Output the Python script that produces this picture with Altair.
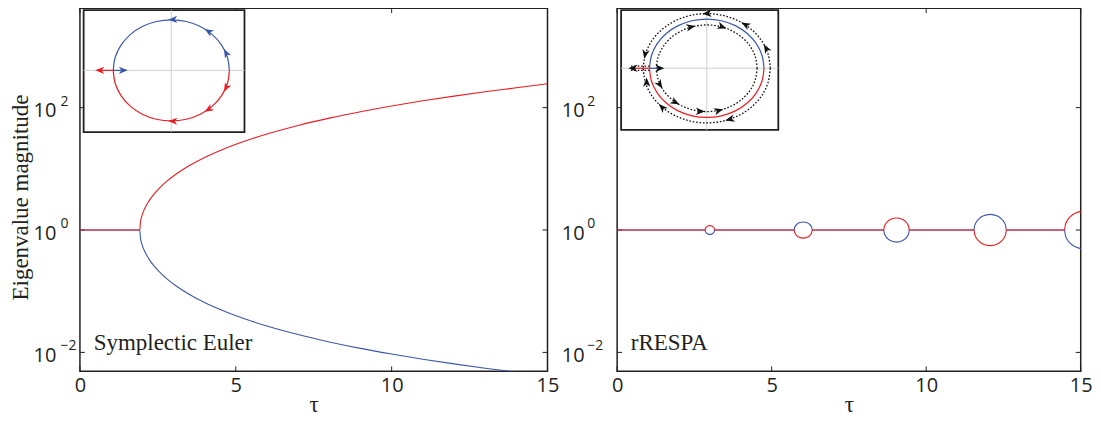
import altair as alt
import pandas as pd

RED = "#ed1c24"
BLUE = "#3b57a7"
INK = "#231f20"
CROSS = "#d0d0d0"
COLORS = {"red": RED, "blue": BLUE, "black": "#111111"}

WL = 468
WR = 464
H = 363.5

# ---------------- axes ----------------
tau_domain = [0, 15]
mag_domain = [0.0049, 4217]
tau_ticks = [0, 5, 10, 15]
mag_ticks = [0.01, 1, 100]
mag_exponents = ["\u22122", "0", "2"]

# ---------------- left panel: symplectic Euler ----------------
se_tau = [0.0, 1.92, 1.94, 1.97, 2.02, 2.1, 2.2, 2.35, 2.55, 2.8, 3.1, 3.5, 4.0, 4.6,
          5.3, 6.0, 7.0, 8.0, 9.0, 10.0, 11.0, 12.0, 13.0, 14.0, 15.0]
se_red = [1.0, 1.0, 1.334, 1.577, 1.902, 2.362, 2.908, 3.724, 4.850, 6.350, 8.308, 11.20,
          15.30, 20.91, 28.45, 37.04, 51.15, 67.43, 85.88, 106.5, 129.3, 154.3, 181.4,
          210.7, 246.0]
se_blue = [1.0, 1.0, 0.7496, 0.6341, 0.5258, 0.4234, 0.3439, 0.2685, 0.2062, 0.1575,
           0.1204, 0.08925, 0.06537, 0.04782, 0.03515, 0.02700, 0.01955, 0.01483,
           0.01164, 0.00939, 0.007735, 0.006483, 0.005513, 0.004746, 0.00407]

# ---------------- right panel: rRESPA ----------------
rr_flat_start = [0.0, 3.15, 6.31, 9.45, 12.59]
rr_flat_end = [2.85, 5.73, 8.63, 11.55, 14.48]
rr_loop_tau = [
    [2.85, 2.855, 2.87, 2.895, 2.933, 3.0, 3.068, 3.105, 3.13, 3.145, 3.15],
    [5.73, 5.739, 5.768, 5.817, 5.889, 6.02, 6.151, 6.223, 6.272, 6.301, 6.31],
    [8.63, 8.642, 8.683, 8.753, 8.856, 9.04, 9.225, 9.327, 9.397, 9.438, 9.45],
    [11.55, 11.566, 11.618, 11.706, 11.836, 12.07, 12.304, 12.434, 12.522, 12.574, 12.59],
    [14.48, 14.499, 14.561, 14.666, 14.821, 15.1, 15.379, 15.534, 15.639, 15.701, 15.72],
]
rr_loop_upper = [
    [1.0, 1.041, 1.085, 1.126, 1.160, 1.180, 1.160, 1.126, 1.085, 1.041, 1.0],
    [1.0, 1.077, 1.162, 1.243, 1.312, 1.355, 1.312, 1.243, 1.162, 1.077, 1.0],
    [1.0, 1.117, 1.251, 1.383, 1.499, 1.574, 1.499, 1.383, 1.251, 1.117, 1.0],
    [1.0, 1.154, 1.336, 1.521, 1.689, 1.799, 1.689, 1.521, 1.336, 1.154, 1.0],
    [1.0, 1.188, 1.419, 1.659, 1.884, 2.032, 1.884, 1.659, 1.419, 1.188, 1.0],
]
rr_loop_lower = [
    [1.0, 0.961, 0.922, 0.888, 0.862, 0.847, 0.862, 0.888, 0.922, 0.961, 1.0],
    [1.0, 0.929, 0.861, 0.805, 0.762, 0.738, 0.762, 0.805, 0.861, 0.929, 1.0],
    [1.0, 0.896, 0.800, 0.723, 0.667, 0.635, 0.667, 0.723, 0.800, 0.896, 1.0],
    [1.0, 0.867, 0.749, 0.658, 0.592, 0.556, 0.592, 0.658, 0.749, 0.867, 1.0],
    [1.0, 0.842, 0.705, 0.603, 0.531, 0.492, 0.531, 0.603, 0.705, 0.842, 1.0],
]
rr_loop_top = ["red", "blue", "red", "blue", "red"]

# ---------------- insets (complex plane) ----------------
circle_cos = [1.0, 0.966, 0.866, 0.707, 0.5, 0.259, 0.0, -0.259, -0.5, -0.707, -0.866, -0.966, -1.0]
circle_sin = [0.0, 0.259, 0.5, 0.707, 0.866, 0.966, 1.0, 0.966, 0.866, 0.707, 0.5, 0.259, 0.0]

se_inset_x = [-1.51, 1.26]
se_inset_y = [-1.22, 1.19]
se_tail_red = [-1.0, -1.28]
se_tail_blue = [-1.0, -0.77]
se_arrow_x = [0.906, 0.574, -0.052, -0.75, 0.906, 0.574, -0.052, -1.31]
se_arrow_y = [0.423, 0.819, 0.999, 0.0, -0.423, -0.819, -0.999, 0.0]
se_arrow_dir = [241.7, 211.3, 177.4, 0.0, 118.3, 148.7, 182.6, 180.0]
se_arrow_col = ["blue", "blue", "blue", "blue", "red", "red", "red", "red"]

rr_inset_x = [-1.496, 1.25]
rr_inset_y = [-1.25, 1.18]
rr_tail_red = [-1.0, -1.34]
rr_tail_blue = [-1.0, -0.78]
rr_ring_radius = [1.11, 0.88]
rr_trail_x = [-1.0, -1.33]
rr_trail_y = [0.045, -0.045]
rr_arrow_x = [-0.077, 0.605, 0.998, -1.093, 0.325, -0.838,
              -0.198, 0.344, -0.777, -0.479, -0.031, 0.287,
              -1.37, -0.74, -1.05]
rr_arrow_y = [1.107, 0.931, 0.487, 0.193, -1.061, -0.728,
              0.857, 0.810, -0.413, -0.738, -0.879, -0.832,
              0.0, 0.0, -0.19]
rr_arrow_dir = [176.6, 209.1, 240.4, 101.6, 165.3, 224.6,
                348.8, 20.0, 58.2, 29.1, 1.7, 343.5,
                180.0, 0.0, 270.0]

ARROW = "M0,0 L-2,-0.8 L-1.45,0 L-2,0.8 Z"


def mx(axis=None):
    return alt.X("tau:Q", scale=alt.Scale(domain=tau_domain, nice=False, zero=False), axis=axis)


def my(axis=None):
    return alt.Y("mag:Q", scale=alt.Scale(type="log", domain=mag_domain, nice=False), axis=axis)


def x_axis():
    return alt.Axis(values=tau_ticks, title="\u03c4", format="d", labelFont="Open Sans",
                    labelFontSize=20, labelColor=INK, labelPadding=4, labelFlush=False,
                    labelOverlap=False, ticks=False, domain=False, grid=False,
                    titleFont="Liberation Serif", titleFontSize=23, titleFontWeight="normal",
                    titleColor=INK, titleBaseline="middle", titleY=33)


def y_axis(with_title, pad):
    kw = dict(values=mag_ticks, labelExpr="'10'", labelFont="Open Sans", labelFontSize=20,
              labelColor=INK, labelPadding=pad, labelOffset=3, labelOverlap=False,
              ticks=False, domain=False, grid=False)
    if with_title:
        kw.update(title="Eigenvalue magnitude", titleFont="Liberation Serif", titleFontSize=23,
                  titleFontWeight="normal", titleColor=INK, titleAngle=270,
                  titleAlign="center", titleBaseline="middle", titleX=-59.5, titleY=189)
    else:
        kw.update(title=None)
    return alt.Axis(**kw)


def tick_layers(w):
    xt = pd.DataFrame({"tau": tau_ticks})
    yt = pd.DataFrame({"mag": mag_ticks})
    bx = alt.Chart(xt).mark_rule(color=INK, strokeWidth=1)
    by = alt.Chart(yt).mark_rule(color=INK, strokeWidth=1)
    return [
        bx.encode(x=mx(), y=alt.value(H), y2=alt.value(H - 5)),
        bx.encode(x=mx(), y=alt.value(0), y2=alt.value(5)),
        by.encode(y=my(), x=alt.value(0), x2=alt.value(5)),
        by.encode(y=my(), x=alt.value(w), x2=alt.value(w - 5)),
    ]


def exponent_layer(xoff):
    df = pd.DataFrame({"mag": mag_ticks, "e": mag_exponents})
    return alt.Chart(df).mark_text(align="left", baseline="middle", font="Open Sans",
                                   fontSize=14, color=INK, dy=-6).encode(
        y=my(), x=alt.value(xoff), text="e:N")


def label_layer(text):
    df = pd.DataFrame({"tau": [0.44], "mag": [0.0108], "t": [text]})
    return alt.Chart(df).mark_text(align="left", baseline="alphabetic", font="Liberation Serif",
                                   fontSize=23, color=INK).encode(x=mx(), y=my(), text="t:N")


def inset_layers(xdom, ydom, xr, yr, curves, arrows, arrow_size):
    xs = alt.Scale(domain=xdom, range=xr, nice=False, zero=False)
    ys = alt.Scale(domain=ydom, range=yr, nice=False, zero=False)
    box = alt.Chart(pd.DataFrame({"x": [xdom[0]], "x2": [xdom[1]], "y": [ydom[0]], "y2": [ydom[1]]})
                    ).mark_rect(fill="white", stroke=INK, strokeWidth=1.8).encode(
        x=alt.X("x:Q", scale=xs, axis=None), x2="x2:Q",
        y=alt.Y("y:Q", scale=ys, axis=None), y2="y2:Q")
    vline = alt.Chart(pd.DataFrame({"x": [0.0], "y": [ydom[0]], "y2": [ydom[1]]})
                      ).mark_rule(color=CROSS, strokeWidth=1).encode(
        x=alt.X("x:Q", scale=xs, axis=None), y=alt.Y("y:Q", scale=ys, axis=None), y2="y2:Q")
    hline = alt.Chart(pd.DataFrame({"y": [0.0], "x": [xdom[0]], "x2": [xdom[1]]})
                      ).mark_rule(color=CROSS, strokeWidth=1).encode(
        y=alt.Y("y:Q", scale=ys, axis=None), x=alt.X("x:Q", scale=xs, axis=None), x2="x2:Q")
    layers = [box, vline, hline]
    for dash, df in curves:
        mk = dict(interpolate="cardinal", strokeWidth=1.2)
        if dash:
            mk["strokeDash"] = [1.6, 1.8]
            mk["strokeWidth"] = 1.3
        layers.append(alt.Chart(df).mark_line(**mk).encode(
            x=alt.X("x:Q", scale=xs, axis=None), y=alt.Y("y:Q", scale=ys, axis=None),
            order="o:Q", detail="g:N", color=alt.Color("c:N", scale=None)))
    layers.append(alt.Chart(arrows).mark_point(shape=ARROW, filled=True, size=arrow_size,
                                               opacity=1, strokeWidth=0).encode(
        x=alt.X("x:Q", scale=xs, axis=None), y=alt.Y("y:Q", scale=ys, axis=None),
        angle=alt.Angle("a:Q", scale=None), color=alt.Color("c:N", scale=None)))
    return layers


def circle_df(upper_col, lower_col, radius=1.0, tag=""):
    rows = []
    for i, (c, s) in enumerate(zip(circle_cos, circle_sin)):
        rows.append(dict(x=radius * c, y=radius * s, o=i, g=tag + "u", c=COLORS[upper_col]))
        rows.append(dict(x=radius * c, y=-radius * s, o=i, g=tag + "l", c=COLORS[lower_col]))
    return pd.DataFrame(rows)


def tail_df(red, blue):
    rows = [dict(x=v, y=0.0, o=i, g="tr", c=RED) for i, v in enumerate(red)]
    rows += [dict(x=v, y=0.0, o=i, g="tb", c=BLUE) for i, v in enumerate(blue)]
    return pd.DataFrame(rows)


def trail_df():
    rows = []
    for k, yy in enumerate(rr_trail_y):
        for i, xx in enumerate(rr_trail_x):
            rows.append(dict(x=xx, y=yy, o=i, g=f"t{k}", c=COLORS["black"]))
    return pd.DataFrame(rows)


def arrow_df(xs, ys, ds, cs):
    return pd.DataFrame({"x": xs, "y": ys, "a": ds, "c": [COLORS[c] for c in cs]})


# ---------------- left chart ----------------
se_blue_df = pd.DataFrame({"tau": se_tau, "mag": se_blue})
se_red_df = pd.DataFrame({"tau": se_tau, "mag": se_red})

left_layers = tick_layers(WL) + [
    alt.Chart(se_blue_df).mark_line(color=BLUE, strokeWidth=1.1, clip=True, interpolate="monotone"
                                    ).encode(x=mx(x_axis()), y=my(y_axis(True, 24))),
    alt.Chart(se_red_df).mark_line(color=RED, strokeWidth=1.1, clip=True, interpolate="monotone"
                                   ).encode(x=mx(), y=my()),
    label_layer("Symplectic Euler"),
    exponent_layer(-19.5),
] + inset_layers(se_inset_x, se_inset_y, [83 - 79.3, 244 - 79.3], [133 - 9, 11 - 9],
                 [(False, circle_df("blue", "red")), (False, tail_df(se_tail_red, se_tail_blue))],
                 arrow_df(se_arrow_x, se_arrow_y, se_arrow_dir, se_arrow_col), 80)

left = alt.layer(*left_layers).resolve_scale(x="independent", y="independent").properties(
    width=WL, height=H)

# ---------------- right chart ----------------
rows = []
for i, (a, b) in enumerate(zip(rr_flat_start, rr_flat_end)):
    for col in ["blue", "red"]:
        rows.append(dict(tau=a, mag=1.0, col=col, grp=f"f{i}{col}"))
        rows.append(dict(tau=b, mag=1.0, col=col, grp=f"f{i}{col}"))
for i in range(len(rr_loop_tau)):
    top = rr_loop_top[i]
    bot = "blue" if top == "red" else "red"
    for t, mu, ml in zip(rr_loop_tau[i], rr_loop_upper[i], rr_loop_lower[i]):
        rows.append(dict(tau=t, mag=mu, col=top, grp=f"u{i}"))
        rows.append(dict(tau=t, mag=ml, col=bot, grp=f"l{i}"))
rr_df = pd.DataFrame(rows)

ring_frames = [circle_df("black", "black", r, tag=f"r{k}") for k, r in enumerate(rr_ring_radius)]

RX0 = 617
right_layers = tick_layers(WR) + [
    alt.Chart(rr_df[rr_df.col == "blue"]).mark_line(color=BLUE, strokeWidth=1.1, clip=True,
                                                    interpolate="monotone").encode(
        x=mx(x_axis()), y=my(y_axis(False, 33)), detail="grp:N"),
    alt.Chart(rr_df[rr_df.col == "red"]).mark_line(color=RED, strokeWidth=1.1, clip=True,
                                                   interpolate="monotone").encode(
        x=mx(), y=my(), detail="grp:N"),
    label_layer("rRESPA"),
    exponent_layer(-30),
] + inset_layers(rr_inset_x, rr_inset_y, [621 - RX0, 778.3 - RX0], [130.7 - 9, 11 - 9],
                 [(True, ring_frames[0]), (True, ring_frames[1]), (True, trail_df()),
                  (False, circle_df("blue", "red")), (False, tail_df(rr_tail_red, rr_tail_blue))],
                 arrow_df(rr_arrow_x, rr_arrow_y, rr_arrow_dir, ["black"] * len(rr_arrow_x)), 84)

right = alt.layer(*right_layers).resolve_scale(x="independent", y="independent").properties(
    width=WR, height=H)

chart = alt.hconcat(left, right, spacing=RX0 - (79.3 + WL), bounds="flush").properties(
    padding={"left": 0, "top": -2, "right": 0, "bottom": 0}
).configure_view(stroke=INK, strokeWidth=1.5)

chart.save("out.html", embed_options={"renderer": "svg", "actions": False})
